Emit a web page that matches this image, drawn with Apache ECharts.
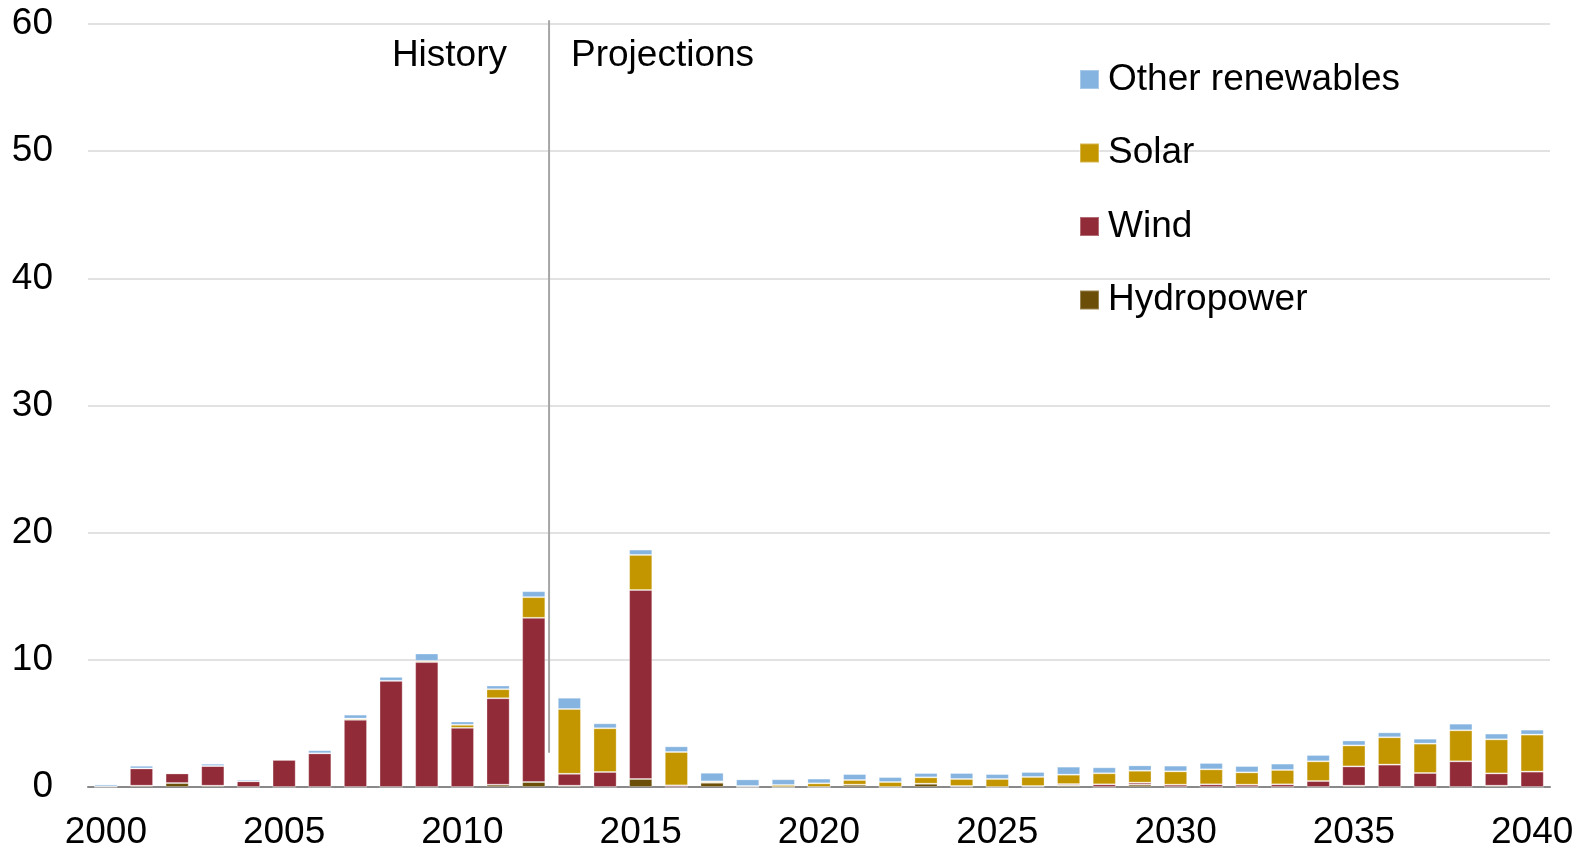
<!DOCTYPE html>
<html>
<head>
<meta charset="utf-8">
<title>Renewable capacity additions</title>
<script src="https://cdn.jsdelivr.net/npm/echarts@6/dist/echarts.min.js"></script>
<style>
  html, body { margin: 0; padding: 0; background: #fff; }
  #chart { width: 1585px; height: 849px; }
</style>
</head>
<body>
<div id="chart"></div>
<script>
const years = []
for (let y = 2000; y <= 2040; y++) years.push(String(y))

const hydro = [0, 0.1, 0.31, 0.1, 0, 0, 0, 0, 0, 0, 0, 0.18, 0.39, 0.1, 0, 0.63, 0, 0.34, 0, 0, 0, 0.18, 0, 0.26, 0, 0, 0, 0.13, 0, 0.18, 0, 0, 0, 0, 0, 0.1, 0, 0, 0, 0.1, 0]
const wind = [0.05, 1.36, 0.76, 1.55, 0.45, 2.13, 2.65, 5.28, 8.35, 9.82, 4.65, 6.8, 12.91, 0.94, 1.18, 14.86, 0.13, 0, 0, 0, 0, 0, 0, 0, 0.08, 0, 0.08, 0.1, 0.21, 0.16, 0.18, 0.21, 0.18, 0.21, 0.47, 1.52, 1.76, 1.1, 2.02, 0.97, 1.21]
const solar = [0, 0, 0, 0, 0, 0.05, 0, 0.1, 0, 0.1, 0.24, 0.71, 1.63, 5.09, 3.44, 2.76, 2.62, 0.1, 0.08, 0.16, 0.29, 0.37, 0.39, 0.5, 0.55, 0.63, 0.71, 0.74, 0.87, 0.94, 1.05, 1.18, 0.97, 1.13, 1.55, 1.65, 2.15, 2.31, 2.44, 2.68, 2.91]
const other = [0.15, 0.21, 0.05, 0.18, 0.13, 0.08, 0.24, 0.31, 0.31, 0.58, 0.26, 0.29, 0.47, 0.89, 0.39, 0.42, 0.45, 0.68, 0.52, 0.45, 0.37, 0.47, 0.39, 0.34, 0.47, 0.39, 0.39, 0.63, 0.47, 0.42, 0.45, 0.5, 0.5, 0.5, 0.5, 0.39, 0.39, 0.39, 0.52, 0.45, 0.39]

// history / projections divider, in category-index units
const dividerX = 12.43
const dividerY = [2.7, 60.3]

const FONT = 'Liberation Sans, Arial, sans-serif'
const FS = 37

function barSeries(name, data, color) {
  return {
    name,
    type: 'bar',
    stack: 'total',
    data,
    barWidth: '65%',
    itemStyle: { color, borderColor: 'rgba(255,255,255,0.3)', borderWidth: 1 },
    emphasis: { disabled: true },
  }
}

const chart = echarts.init(document.getElementById('chart'))
chart.setOption({
  animation: false,
  textStyle: { fontFamily: FONT },
  grid: { left: 88, right: 35, top: 24, bottom: 62, outerBoundsMode: 'none' },
  legend: {
    data: ['Other renewables', 'Solar', 'Wind', 'Hydropower'],
    orient: 'vertical',
    left: 1079,
    top: 61,
    padding: 0,
    itemWidth: 19,
    itemHeight: 19,
    itemGap: 36.5,
    icon: 'rect',
    textStyle: { fontSize: FS, color: '#000', fontFamily: FONT, lineHeight: 37, padding: [0, 0, 0, 4] },
  },
  xAxis: [
    {
      type: 'category',
      data: years,
      axisLine: { lineStyle: { color: '#898989', width: 2 } },
      axisTick: { interval: 0, length: 12, lineStyle: { color: '#898989', width: 2 } },
      axisLabel: { interval: 4, fontSize: FS, color: '#000', margin: 27, fontFamily: FONT },
    },
    { type: 'value', min: -0.5, max: 40.5, show: false },
  ],
  yAxis: {
    type: 'value',
    min: 0,
    max: 60,
    interval: 10,
    axisLine: { show: false },
    axisTick: { show: false },
    axisLabel: { fontSize: FS, color: '#000', margin: 35, fontFamily: FONT },
    splitLine: { lineStyle: { color: '#d9d9d9', width: 1.5 } },
  },
  graphic: [
    { type: 'text', right: 1585 - 507, top: 37, style: { text: 'History', fontSize: FS, fontFamily: FONT, fill: '#000' } },
    { type: 'text', left: 571, top: 37, style: { text: 'Projections', fontSize: FS, fontFamily: FONT, fill: '#000' } },
  ],
  series: [
    barSeries('Hydropower', hydro, '#6b4f08'),
    barSeries('Wind', wind, '#922b38'),
    barSeries('Solar', solar, '#c39600'),
    barSeries('Other renewables', other, '#86b4e0'),
    {
      type: 'line',
      xAxisIndex: 1,
      data: dividerY.map(v => [dividerX, v]),
      symbol: 'none',
      clip: false,
      silent: true,
      lineStyle: { color: '#a6a6a6', width: 2 },
    },
  ],
})
</script>
</body>
</html>
